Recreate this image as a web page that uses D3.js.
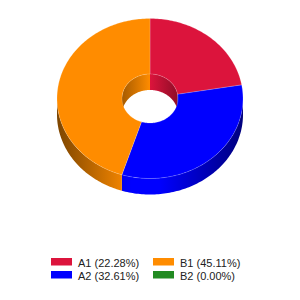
<!DOCTYPE html>
<html>
<head>
<meta charset="utf-8">
<script src="https://cdn.jsdelivr.net/npm/d3@7"></script>
<style>
  body { margin: 0; background: #fff; }
  svg { display: block; font-family: "Liberation Sans", Arial, sans-serif; }
</style>
</head>
<body>
<svg id="chart" width="300" height="300"></svg>
<script>
const labels = ["A1", "A2", "B1", "B2"];
const values = [22.28, 32.61, 45.11, 0];
const colors = ["#DC143C", "#0000FF", "#FF8C00", "#228B22"];

const svg = d3.select("#chart");
const defs = svg.append("defs");

const cx = 150, cy = 98.5;
const rx = 93, ry = 80;         // outer ellipse
const irx = 28, iry = 24.5;     // hole
const depth = 16;

const pie = d3.pie().sort(null).value(d => d)(values);

// point on an ellipse for an angle measured clockwise from 12 o'clock
const pt = (a, ex, ey, dy) => [cx + ex * Math.sin(a), cy + dy - ey * Math.cos(a)];

function arcPts(a0, a1, ex, ey, dy) {
  const n = Math.max(2, Math.ceil(Math.abs(a1 - a0) / 0.02));
  return d3.range(n + 1).map(i => pt(a0 + (a1 - a0) * i / n, ex, ey, dy));
}

const line = pts => "M" + pts.map(p => p[0].toFixed(2) + "," + p[1].toFixed(2)).join("L");

// gradients for the walls
function gradient(id, c, x1, x2, stops) {
  const g = defs.append("linearGradient").attr("id", id)
    .attr("gradientUnits", "userSpaceOnUse")
    .attr("x1", x1).attr("x2", x2).attr("y1", 0).attr("y2", 0);
  g.selectAll("stop").data(stops).enter().append("stop")
    .attr("offset", d => d[0])
    .attr("stop-color", d => d3.color(c).darker(d[1]).formatHex());
}
colors.forEach((c, i) => {
  gradient("side" + i, c, cx - rx, cx + rx, [[0, 2], [0.4, 0], [0.55, 0], [1, 2]]);
  gradient("inner" + i, c, cx - irx, cx + irx, [[0, 1.2], [0.5, 0], [1, 1.2]]);
});

// outer side wall: front half (PI/2 .. 3PI/2)
pie.forEach((d, i) => {
  const a0 = Math.max(d.startAngle, Math.PI / 2);
  const a1 = Math.min(d.endAngle, 3 * Math.PI / 2);
  if (a1 <= a0) return;
  const top = arcPts(a0, a1, rx, ry, 0);
  const bot = arcPts(a1, a0, rx, ry, depth);
  svg.append("path")
    .attr("d", line(top.concat(bot)) + "Z")
    .attr("fill", `url(#side${i})`);
});

// inner wall: back half (-PI/2 .. PI/2)
pie.forEach((d, i) => {
  [[d.startAngle, d.endAngle], [d.startAngle - 2 * Math.PI, d.endAngle - 2 * Math.PI]].forEach(([s, e]) => {
    const a0 = Math.max(s, -Math.PI / 2);
    const a1 = Math.min(e, Math.PI / 2);
    if (a1 <= a0) return;
    const top = arcPts(a0, a1, irx, iry, 0);
    const bot = arcPts(a1, a0, irx, iry, depth);
    svg.append("path")
      .attr("d", line(top.concat(bot)) + "Z")
      .attr("fill", `url(#inner${i})`);
  });
});

// top face
pie.forEach((d, i) => {
  if (d.endAngle - d.startAngle <= 0) return;
  const outer = arcPts(d.startAngle, d.endAngle, rx, ry, 0);
  const inner = arcPts(d.endAngle, d.startAngle, irx, iry, 0);
  svg.append("path")
    .attr("d", line(outer.concat(inner)) + "Z")
    .attr("fill", colors[i])
    .attr("stroke", "#fff")
    .attr("stroke-opacity", 0.3)
    .attr("stroke-width", 0.6);
});

// legend
const legend = svg.append("g").attr("transform", "translate(51,258)");
const item = legend.selectAll("g").data(labels).enter().append("g")
  .attr("transform", (d, i) => `translate(${Math.floor(i / 2) * 102},${(i % 2) * 13})`);
item.append("rect").attr("width", 21).attr("height", 7.5).attr("fill", (d, i) => colors[i]);
item.append("text")
  .attr("x", 27).attr("y", 8.5)
  .attr("font-size", 11)
  .attr("fill", "#222")
  .text((d, i) => `${d} (${values[i].toFixed(2)}%)`);
</script>
</body>
</html>
